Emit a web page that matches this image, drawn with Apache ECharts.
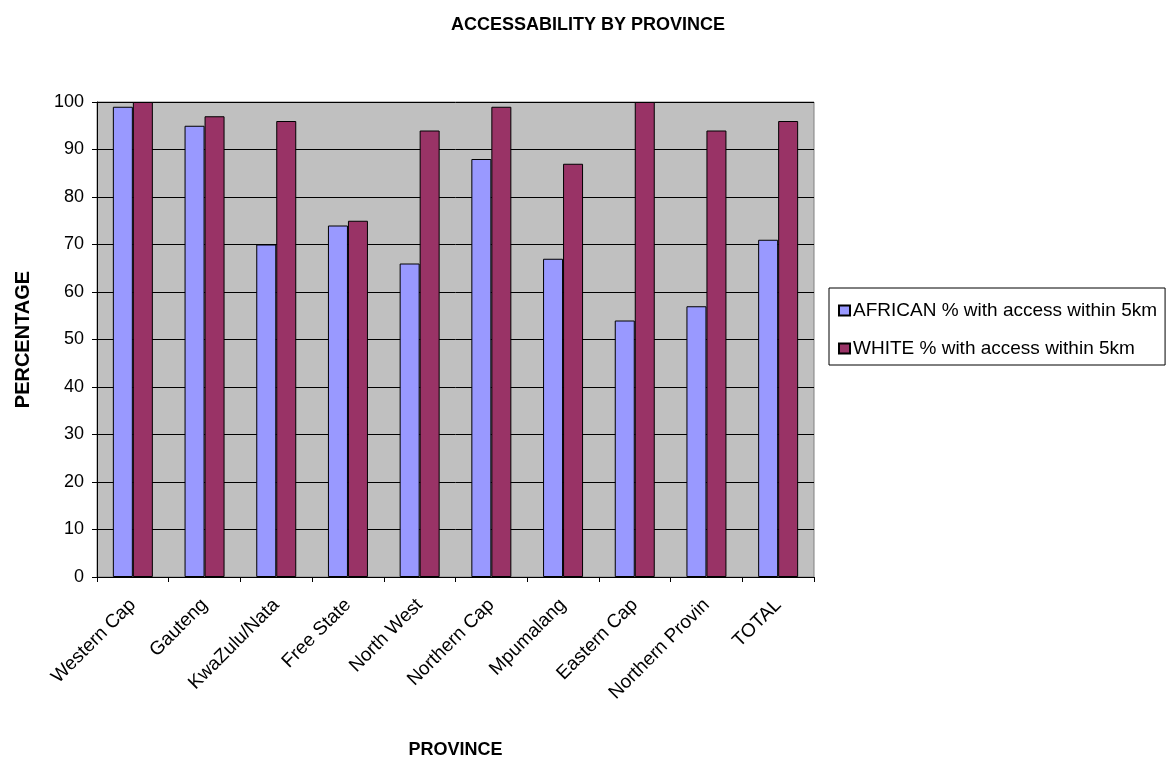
<!DOCTYPE html>
<html>
<head>
<meta charset="utf-8">
<script src="https://cdn.jsdelivr.net/npm/echarts@6/dist/echarts.min.js"></script>
<style>
  html, body { margin: 0; padding: 0; background: #fff; }
  #chart { width: 1171px; height: 765px; }
</style>
</head>
<body>
<div id="chart"></div>
<script>
var provinces = ["Western Cap", "Gauteng", "KwaZulu/Nata", "Free State", "North West",
  "Northern Cap", "Mpumalang", "Eastern Cap", "Northern Provin", "TOTAL"];
var african = [99, 95, 70, 74, 66, 88, 67, 54, 57, 71];
var white = [100, 97, 96, 75, 94, 99, 87, 100, 94, 96];
var seriesNames = ["AFRICAN % with access within 5km", "WHITE % with access within 5km"];

var chart = echarts.init(document.getElementById("chart"));
var font = "Liberation Sans, Arial, sans-serif";

chart.setOption({
  animation: false,
  textStyle: { fontFamily: font },
  title: {
    text: "ACCESSABILITY BY PROVINCE",
    left: 583,
    textAlign: "center",
    top: 11,
    textStyle: { fontSize: 18, fontWeight: "bold", color: "#000", fontFamily: font }
  },
  legend: {
    data: seriesNames,
    orient: "vertical",
    left: 829,
    top: 288,
    padding: [13, 8, 7, 9],
    itemGap: 19,
    itemWidth: 11,
    itemHeight: 10,
    borderColor: "#000",
    borderWidth: 1,
    icon: "rect",
    selectedMode: false,
    textStyle: { fontSize: 19, lineHeight: 19, color: "#000", fontFamily: font, padding: [0, 0, 0, -2] }
  },
  grid: {
    left: 97,
    right: 357,
    top: 102,
    bottom: 188,
    show: true,
    backgroundColor: "#C0C0C0",
    borderColor: "#808080",
    borderWidth: 1
  },
  xAxis: {
    type: "category",
    data: provinces,
    name: "PROVINCE",
    nameLocation: "middle",
    nameGap: 164,
    nameTextStyle: { fontSize: 18, fontWeight: "bold", color: "#000", fontFamily: font },
    axisLine: { lineStyle: { color: "#000", width: 1 } },
    axisTick: { show: true, length: 5, lineStyle: { color: "#000" } },
    axisLabel: { rotate: 45, fontSize: 19, color: "#000", margin: 25, interval: 0 }
  },
  yAxis: {
    type: "value",
    min: 0,
    max: 100,
    interval: 10,
    name: "PERCENTAGE",
    nameLocation: "middle",
    nameGap: 64,
    nameRotate: 90,
    nameTextStyle: { fontSize: 20, fontWeight: "bold", color: "#000", fontFamily: font },
    axisLine: { show: true, lineStyle: { color: "#000", width: 1 } },
    axisTick: { show: true, length: 5, lineStyle: { color: "#000" } },
    axisLabel: { fontSize: 18, color: "#000", margin: 13 },
    splitLine: { show: true, lineStyle: { color: "#000", width: 1 } }
  },
  series: [
    {
      name: seriesNames[0],
      type: "bar",
      data: african,
      barWidth: 20,
      barGap: "0%",
      itemStyle: { color: "#9999FF", borderColor: "#000", borderWidth: 1 }
    },
    {
      name: seriesNames[1],
      type: "bar",
      data: white,
      barWidth: 20,
      itemStyle: { color: "#993366", borderColor: "#000", borderWidth: 1 }
    }
  ]
});
</script>
</body>
</html>
